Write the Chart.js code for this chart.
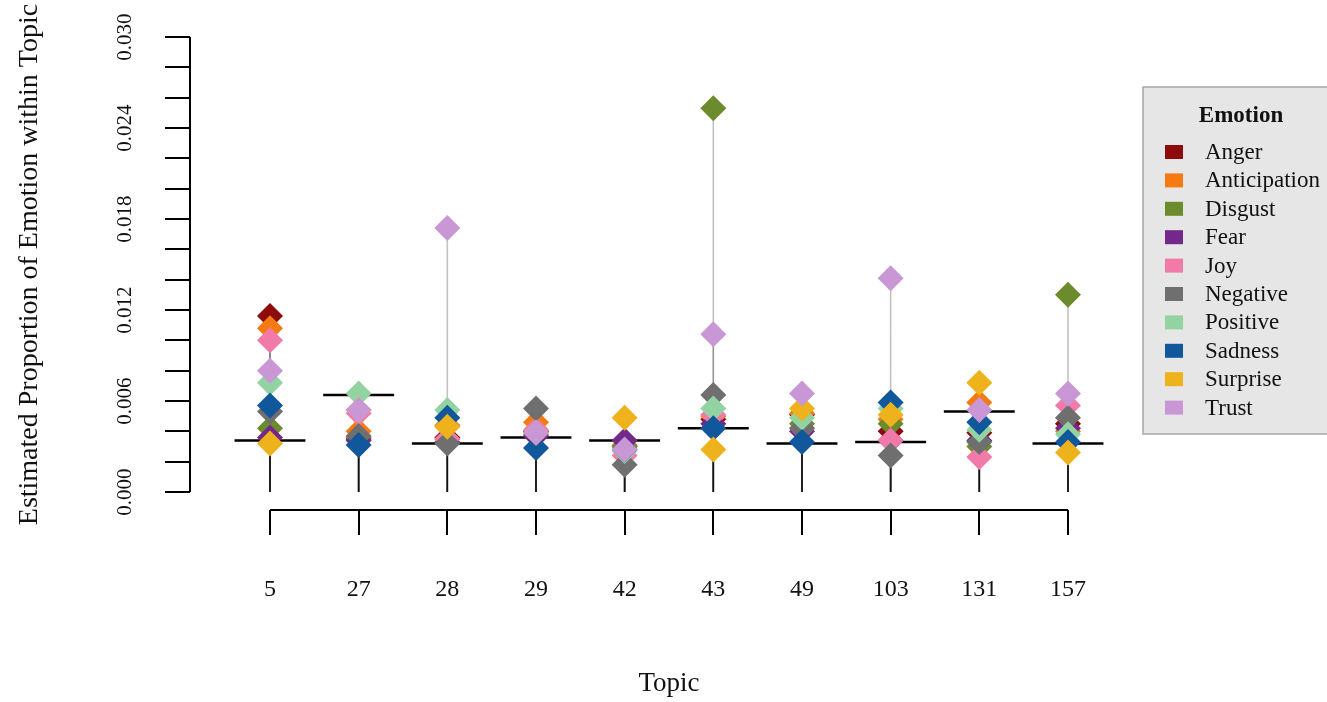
<!DOCTYPE html>
<html>
<head>
<meta charset="utf-8">
<script src="https://cdn.jsdelivr.net/npm/chart.js@4/dist/chart.umd.min.js"></script>
<style>
  html, body { margin: 0; padding: 0; background: #fff; }
  #wrap { width: 1327px; height: 702px; }
</style>
</head>
<body>
<div id="wrap"><canvas id="chart" width="1327" height="702"></canvas></div>
<script>
// --- datos -----------------------------------------------------------------
const topics = ['5', '27', '28', '29', '42', '43', '49', '103', '131', '157'];

const emotions = ['Anger', 'Anticipation', 'Disgust', 'Fear', 'Joy',
  'Negative', 'Positive', 'Sadness', 'Surprise', 'Trust'];
const emotionColors = ['#8e0b0b', '#f57a12', '#6b8b2c', '#74298a', '#f27aa8',
  '#6f6f6f', '#93d3a2', '#10579c', '#eeb21c', '#c997d6'];

// proporción estimada de cada emoción, una entrada por tópico
const anger        = [0.0116, 0.0035, 0.0036, 0.0040, 0.0030, 0.0048, 0.0051, 0.0040, 0.0039, 0.0045];
const anticipation = [0.0108, 0.0040, 0.0044, 0.0046, 0.0031, 0.0050, 0.0052, 0.0048, 0.0059, 0.0040];
const disgust      = [0.0042, 0.0036, 0.0035, 0.0038, 0.0030, 0.0253, 0.0045, 0.0045, 0.0030, 0.0130];
const fear         = [0.0036, 0.0034, 0.0033, 0.0037, 0.0034, 0.0045, 0.0040, 0.0034, 0.0034, 0.0042];
const joy          = [0.0100, 0.0052, 0.0035, 0.0041, 0.0024, 0.0051, 0.0042, 0.0034, 0.0023, 0.0057];
const negative     = [0.0053, 0.0037, 0.0032, 0.0055, 0.0018, 0.0064, 0.0042, 0.0024, 0.0033, 0.0049];
const positive     = [0.0072, 0.0065, 0.0054, 0.0039, 0.0027, 0.0055, 0.0049, 0.0055, 0.0041, 0.0038];
const sadness      = [0.0057, 0.0031, 0.0049, 0.0029, 0.0028, 0.0042, 0.0033, 0.0059, 0.0046, 0.0033];
const surprise     = [0.0032, 0.0054, 0.0043, 0.0039, 0.0049, 0.0028, 0.0055, 0.0051, 0.0072, 0.0026];
const trust        = [0.0080, 0.0054, 0.0174, 0.0039, 0.0028, 0.0104, 0.0065, 0.0141, 0.0054, 0.0065];
const emotionValues = [anger, anticipation, disgust, fear, joy, negative, positive, sadness, surprise, trust];

// nivel de referencia de cada tópico (la raya negra horizontal)
const topicLevel = [0.0034, 0.0064, 0.0032, 0.0036, 0.0034, 0.0042, 0.0032, 0.0033, 0.0053, 0.0032];

const yTicks = [0, 0.002, 0.004, 0.006, 0.008, 0.010, 0.012, 0.014, 0.016, 0.018,
  0.020, 0.022, 0.024, 0.026, 0.028, 0.030];
const yLabelTicks = [0, 0.006, 0.012, 0.018, 0.024, 0.030];

const yTitle = 'Estimated Proportion of Emotion within Topic';
const xTitle = 'Topic';
const legendTitle = 'Emotion';

// --- datasets ----------------------------------------------------------------
const SERIF = '"Liberation Serif", "DejaVu Serif", serif';
const HALF = 0.4; // media anchura de la raya de referencia, en unidades de tópico

// un tallo gris desde 0 hasta cada valor; al superponerse se oscurecen
const stems = emotionValues.map((vals) => ({
  type: 'line',
  data: vals.flatMap((v, i) => [{ x: i, y: 0 }, { x: i, y: v }, { x: i, y: null }]),
  borderColor: 'rgba(0,0,0,0.24)',
  borderWidth: 1.6,
  pointRadius: 0,
  spanGaps: false,
  order: 30,
}));

const levels = {
  type: 'line',
  data: topicLevel.flatMap((v, i) => [{ x: i - HALF, y: v }, { x: i + HALF, y: v }, { x: i, y: null }]),
  borderColor: '#000',
  borderWidth: 2.5,
  pointRadius: 0,
  spanGaps: false,
  order: 20,
};

// orden de dibujo alfabético: la última emoción queda encima
const points = emotions.map((name, k) => ({
  type: 'scatter',
  label: name,
  data: emotionValues[k].map((v, i) => ({ x: i, y: v })),
  pointStyle: 'rectRot',
  pointRadius: 13,
  backgroundColor: emotionColors[k],
  borderWidth: 0,
  order: emotions.length - k,
}));

// --- ejes, títulos y leyenda al estilo de R -------------------------------
const rAxes = {
  id: 'rAxes',
  afterDraw(chart) {
    const { ctx, chartArea } = chart;
    const xs = chart.scales.x, ys = chart.scales.y;
    ctx.save();
    ctx.strokeStyle = '#000';
    ctx.fillStyle = '#111';
    ctx.lineWidth = 2;

    // eje y
    const left = chartArea.left;
    ctx.beginPath();
    ctx.moveTo(left, ys.getPixelForValue(0));
    ctx.lineTo(left, ys.getPixelForValue(yTicks[yTicks.length - 1]));
    yTicks.forEach((v) => {
      const y = Math.round(ys.getPixelForValue(v));
      ctx.moveTo(left - 25, y);
      ctx.lineTo(left, y);
    });
    ctx.stroke();
    ctx.font = `21px ${SERIF}`;
    ctx.textAlign = 'center';
    ctx.textBaseline = 'middle';
    yLabelTicks.forEach((v) => {
      ctx.save();
      ctx.translate(125, ys.getPixelForValue(v));
      ctx.rotate(-Math.PI / 2);
      ctx.fillText(v.toFixed(3), 0, 0);
      ctx.restore();
    });

    // eje x, separado del área de datos
    const yAxis = chartArea.bottom + 18;
    ctx.beginPath();
    ctx.moveTo(xs.getPixelForValue(0), yAxis);
    ctx.lineTo(xs.getPixelForValue(topics.length - 1), yAxis);
    topics.forEach((t, i) => {
      const x = Math.round(xs.getPixelForValue(i));
      ctx.moveTo(x, yAxis);
      ctx.lineTo(x, yAxis + 25);
    });
    ctx.stroke();
    ctx.font = `24px ${SERIF}`;
    topics.forEach((t, i) => ctx.fillText(t, xs.getPixelForValue(i), 590));

    // títulos
    ctx.font = `27px ${SERIF}`;
    const xMid = (xs.getPixelForValue(0) + xs.getPixelForValue(topics.length - 1)) / 2;
    ctx.fillText(xTitle, xMid, 684);
    ctx.font = `28px ${SERIF}`;
    ctx.save();
    ctx.translate(30, (chartArea.top + chartArea.bottom) / 2);
    ctx.rotate(-Math.PI / 2);
    ctx.fillText(yTitle, 0, 0);
    ctx.restore();

    // leyenda
    const lx = 1143, ly = 87, lw = 200, lh = 347;
    ctx.fillStyle = '#e6e6e6';
    ctx.fillRect(lx, ly, lw, lh);
    ctx.strokeStyle = '#a8a8a8';
    ctx.lineWidth = 1.5;
    ctx.strokeRect(lx, ly, lw, lh);
    ctx.fillStyle = '#111';
    ctx.font = `bold 23px ${SERIF}`;
    ctx.fillText(legendTitle, 1241, 116);
    ctx.font = `23px ${SERIF}`;
    ctx.textAlign = 'left';
    emotions.forEach((name, k) => {
      const y = 152 + k * 28.4;
      ctx.fillStyle = emotionColors[k];
      ctx.fillRect(1165, y - 7, 18, 14);
      ctx.fillStyle = '#111';
      ctx.fillText(name, 1205, y + 1);
    });
    ctx.restore();
  },
};

new Chart(document.getElementById('chart'), {
  type: 'scatter',
  data: { datasets: [...stems, levels, ...points] },
  options: {
    responsive: false,
    animation: false,
    devicePixelRatio: 1,
    events: [],
    clip: false,
    layout: { padding: { left: 190, top: 37, right: 217, bottom: 210 } },
    plugins: { legend: { display: false }, tooltip: { enabled: false } },
    scales: {
      x: { type: 'linear', display: false, min: -0.902, max: 9.474 },
      y: { type: 'linear', display: false, min: 0, max: 0.03 },
    },
  },
  plugins: [rAxes],
});
</script>
</body>
</html>
